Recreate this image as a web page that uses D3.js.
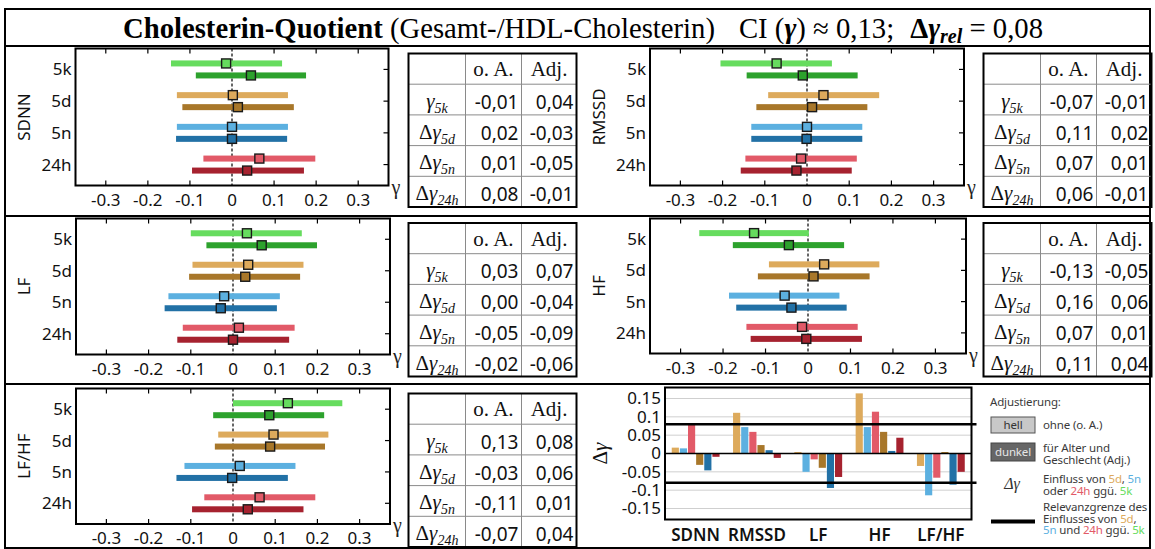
<!DOCTYPE html>
<html>
<head>
<meta charset="utf-8">
<script src="https://cdn.jsdelivr.net/npm/d3@7"></script>
<style>
  body { margin: 0; background: #fff; }
  svg { display: block; }
</style>
</head>
<body>
<svg id="chart" width="1155" height="549"></svg>
<script>
// ---------- data ----------
const categories = ["5k", "5d", "5n", "24h"];
const xTicks = [-0.3, -0.2, -0.1, 0, 0.1, 0.2, 0.3];
const measures = ["SDNN", "RMSSD", "LF", "HF", "LF/HF"];

// [lower CI, estimate, upper CI] per category (5k, 5d, 5n, 24h)
const sdnnLight  = [[-0.145, -0.014, 0.119], [-0.131, 0.002, 0.133], [-0.131, 0.000, 0.133], [-0.068, 0.065, 0.198]];
const sdnnDark   = [[-0.086, 0.045, 0.176], [-0.118, 0.014, 0.147], [-0.133, 0.000, 0.131], [-0.095, 0.036, 0.171]];
const rmssdLight = [[-0.205, -0.072, 0.059], [-0.092, 0.039, 0.171], [-0.132, 0.000, 0.131], [-0.146, -0.014, 0.118]];
const rmssdDark  = [[-0.143, -0.010, 0.120], [-0.120, 0.012, 0.143], [-0.132, -0.001, 0.131], [-0.157, -0.025, 0.106]];
const lfLight    = [[-0.100, 0.033, 0.163], [-0.096, 0.036, 0.167], [-0.153, -0.021, 0.111], [-0.119, 0.014, 0.146]];
const lfDark     = [[-0.063, 0.068, 0.199], [-0.104, 0.029, 0.159], [-0.162, -0.029, 0.104], [-0.132, 0.000, 0.133]];
const hfLight    = [[-0.256, -0.127, 0.002], [-0.092, 0.038, 0.168], [-0.186, -0.055, 0.074], [-0.145, -0.014, 0.117]];
const hfDark     = [[-0.177, -0.045, 0.085], [-0.118, 0.013, 0.145], [-0.169, -0.039, 0.091], [-0.135, -0.004, 0.127]];
const lfhfLight  = [[0.000, 0.130, 0.259], [-0.035, 0.096, 0.226], [-0.115, 0.016, 0.148], [-0.068, 0.063, 0.195]];
const lfhfDark   = [[-0.047, 0.086, 0.216], [-0.043, 0.088, 0.218], [-0.134, -0.002, 0.130], [-0.097, 0.035, 0.167]];

// table columns: gamma_5k, dgamma_5d, dgamma_5n, dgamma_24h
const tableRows = ["5k", "5d", "5n", "24h"];
const sdnnOA  = [-0.01, 0.02, 0.01, 0.08],   sdnnAdj  = [0.04, -0.03, -0.05, -0.01];
const rmssdOA = [-0.07, 0.11, 0.07, 0.06],   rmssdAdj = [-0.01, 0.02, 0.01, -0.01];
const lfOA    = [0.03, 0.00, -0.05, -0.02],  lfAdj    = [0.07, -0.04, -0.09, -0.06];
const hfOA    = [-0.13, 0.16, 0.07, 0.11],   hfAdj    = [-0.05, 0.06, 0.01, 0.04];
const lfhfOA  = [0.13, -0.03, -0.11, -0.07], lfhfAdj  = [0.08, 0.06, 0.01, 0.04];

// bar chart: change of gamma against 5k, per measure
const seriesKeys = ["light5d", "light5n", "light24h", "dark5d", "dark5n", "dark24h"];
const deltaLight5d  = [0.016, 0.111, 0.004, 0.164, -0.034];
const deltaLight5n  = [0.014, 0.072, -0.050, 0.072, -0.114];
const deltaLight24h = [0.079, 0.059, -0.016, 0.114, -0.066];
const deltaDark5d   = [-0.031, 0.023, -0.039, 0.059, 0.004];
const deltaDark5n   = [-0.046, 0.009, -0.094, 0.007, -0.085];
const deltaDark24h  = [-0.009, -0.012, -0.064, 0.043, -0.050];
const barTicks = [-0.15, -0.1, -0.05, 0, 0.05, 0.1, 0.15];
const relevanceLimit = 0.08;

// ---------- styles ----------
const lightColors = ["#66dc5e", "#ddaa5c", "#5cb0e0", "#e25a68"];
const darkColors  = ["#2da22d", "#a8772a", "#2271a6", "#a6222f"];
const seriesColors = [lightColors[1], lightColors[2], lightColors[3], darkColors[1], darkColors[2], darkColors[3]];
const SANS = "'Noto Sans', 'DejaVu Sans', sans-serif";
const SERIF = "'Liberation Serif', 'DejaVu Serif', serif";

const svg = d3.select("#chart");

// ---------- frame and title ----------
svg.append("rect").attr("x", 5).attr("y", 9).attr("width", 1145).attr("height", 539)
  .attr("fill", "none").attr("stroke", "#000").attr("stroke-width", 2);
[46, 216, 384].forEach(yy => {
  svg.append("line").attr("x1", 5).attr("x2", 1150).attr("y1", yy).attr("y2", yy)
    .attr("stroke", "#000").attr("stroke-width", 2);
});

const title = svg.append("text").attr("x", 583).attr("y", 38).attr("text-anchor", "middle")
  .style("font-family", SERIF).style("font-size", "28.7px").attr("fill", "#000");
title.append("tspan").attr("font-weight", "bold").text("Cholesterin-Quotient");
title.append("tspan").text(" (Gesamt-/HDL-Cholesterin)");
title.append("tspan").attr("dx", 24).text("CI (");
title.append("tspan").attr("font-weight", "bold").attr("font-style", "italic").text("γ");
title.append("tspan").text(") ≈ 0,13;");
title.append("tspan").attr("dx", 16).attr("font-weight", "bold").text("Δ");
title.append("tspan").attr("font-weight", "bold").attr("font-style", "italic").text("γ");
title.append("tspan").attr("font-weight", "bold").attr("font-style", "italic")
  .attr("font-size", "20px").attr("dy", 5).text("rel");
title.append("tspan").attr("dy", -5).text(" = 0,08");

// ---------- forest panels ----------
const forestData = {
  "SDNN": [sdnnLight, sdnnDark], "RMSSD": [rmssdLight, rmssdDark], "LF": [lfLight, lfDark],
  "HF": [hfLight, hfDark], "LF/HF": [lfhfLight, lfhfDark]
};
const tableData = {
  "SDNN": [sdnnOA, sdnnAdj], "RMSSD": [rmssdOA, rmssdAdj], "LF": [lfOA, lfAdj],
  "HF": [hfOA, hfAdj], "LF/HF": [lfhfOA, lfhfAdj]
};
const panelLayout = [
  { key: "SDNN",  x0: 75.5, x1: 388.5, y0: 48.5,  y1: 185.5, labelX: 24,  tableX: 408.5, tableY: 53.5 },
  { key: "RMSSD", x0: 650,  x1: 964,   y0: 48.5,  y1: 185.5, labelX: 599, tableX: 983.5, tableY: 53.5 },
  { key: "LF",    x0: 76,   x1: 390,   y0: 218.5, y1: 354.5, labelX: 24,  tableX: 408.5, tableY: 223 },
  { key: "HF",    x0: 650,  x1: 966,   y0: 218.5, y1: 353.5, labelX: 599, tableX: 983.5, tableY: 223 },
  { key: "LF/HF", x0: 76,   x1: 390,   y0: 388.5, y1: 524,   labelX: 24,  tableX: 408.5, tableY: 393.5 }
];

function drawForest(p) {
  const g = svg.append("g");
  const x = d3.scaleLinear().domain([-0.372, 0.372]).range([p.x0, p.x1]);
  const y = d3.scalePoint().domain(categories).range([p.y0, p.y1]).padding(0.66);

  // tick marks inside the frame
  xTicks.filter(t => t !== 0).forEach(t => {
    g.append("line").attr("x1", x(t)).attr("x2", x(t)).attr("y1", p.y0).attr("y2", p.y0 + 5)
      .attr("stroke", "#000").attr("stroke-width", 1.2);
    g.append("line").attr("x1", x(t)).attr("x2", x(t)).attr("y1", p.y1 - 5).attr("y2", p.y1)
      .attr("stroke", "#000").attr("stroke-width", 1.2);
  });
  categories.forEach(c => {
    g.append("line").attr("x1", p.x1 - 5).attr("x2", p.x1).attr("y1", y(c)).attr("y2", y(c))
      .attr("stroke", "#000").attr("stroke-width", 1.2);
  });

  // zero reference
  g.append("line").attr("x1", x(0)).attr("x2", x(0)).attr("y1", p.y0).attr("y2", p.y1)
    .attr("stroke", "#000").attr("stroke-width", 1.2).attr("stroke-dasharray", "3,2");

  const [light, dark] = forestData[p.key];
  const sets = [{ rows: light, colors: lightColors, off: -6 }, { rows: dark, colors: darkColors, off: 6 }];
  sets.forEach(s => {
    g.selectAll(null).data(s.rows).join("rect")
      .attr("x", d => x(d[0])).attr("width", d => x(d[2]) - x(d[0]))
      .attr("y", (d, i) => y(categories[i]) + s.off - 3).attr("height", 6)
      .attr("fill", (d, i) => s.colors[i]);
  });
  sets.forEach(s => {
    g.selectAll(null).data(s.rows).join("rect")
      .attr("x", d => x(d[1]) - 4.5).attr("width", 9)
      .attr("y", (d, i) => y(categories[i]) + s.off - 4.5).attr("height", 9)
      .attr("fill", (d, i) => s.colors[i]).attr("stroke", "#1a1a1a").attr("stroke-width", 1.4);
  });

  // frame
  g.append("rect").attr("x", p.x0).attr("y", p.y0).attr("width", p.x1 - p.x0).attr("height", p.y1 - p.y0)
    .attr("fill", "none").attr("stroke", "#000").attr("stroke-width", 2);

  // axis labels
  g.selectAll(null).data(xTicks).join("text")
    .attr("x", d => x(d)).attr("y", p.y1 + 20).attr("text-anchor", "middle")
    .style("font-family", SANS).style("font-size", "17px").attr("fill", "#111")
    .text(d => String(d));
  g.selectAll(null).data(categories).join("text")
    .attr("x", p.x0 - 4).attr("y", d => y(d)).attr("dy", "0.35em").attr("text-anchor", "end")
    .style("font-family", SANS).style("font-size", "17px").attr("fill", "#111")
    .text(d => d);
  g.append("text").attr("transform", `translate(${p.labelX},${(p.y0 + p.y1) / 2}) rotate(-90)`)
    .attr("text-anchor", "middle").attr("dy", "0.35em")
    .style("font-family", SANS).style("font-size", "17px").attr("fill", "#111").text(p.key);
  g.append("text").attr("x", p.x1 + 3).attr("y", p.y1 + 8)
    .style("font-family", SERIF).style("font-size", "20px").attr("fill", "#222").text("γ");
}

function drawTable(p) {
  const g = svg.append("g");
  const colW = [57, 56, 55];
  const rowH = 30.7;
  const colX = [p.tableX, p.tableX + colW[0], p.tableX + colW[0] + colW[1], p.tableX + colW[0] + colW[1] + colW[2]];
  const totalH = rowH * 5;
  for (let r = 1; r < 5; r++) {
    g.append("line").attr("x1", colX[0]).attr("x2", colX[3])
      .attr("y1", p.tableY + r * rowH).attr("y2", p.tableY + r * rowH)
      .attr("stroke", "#8a8a8a").attr("stroke-width", 1);
  }
  [1, 2].forEach(c => {
    g.append("line").attr("x1", colX[c]).attr("x2", colX[c])
      .attr("y1", p.tableY).attr("y2", p.tableY + totalH)
      .attr("stroke", "#8a8a8a").attr("stroke-width", 1);
  });
  g.append("rect").attr("x", colX[0]).attr("y", p.tableY).attr("width", colX[3] - colX[0]).attr("height", totalH)
    .attr("fill", "none").attr("stroke", "#000").attr("stroke-width", 2);

  ["o. A.", "Adj."].forEach((h, i) => {
    g.append("text").attr("x", (colX[i + 1] + colX[i + 2]) / 2).attr("y", p.tableY + rowH - 8)
      .attr("text-anchor", "middle").style("font-family", SERIF).style("font-size", "21px")
      .attr("fill", "#111").text(h);
  });

  const fmt = v => v.toFixed(2).replace(".", ",");
  const [oa, adj] = tableData[p.key];
  tableRows.forEach((r, i) => {
    const base = p.tableY + (i + 2) * rowH - 6;
    const lab = g.append("text").attr("x", (colX[0] + colX[1]) / 2).attr("y", base - 1)
      .attr("text-anchor", "middle").style("font-family", SERIF).style("font-size", "21px").attr("fill", "#111");
    if (i > 0) lab.append("tspan").text("Δ");
    lab.append("tspan").attr("font-style", "italic").text("γ");
    lab.append("tspan").attr("font-style", "italic").attr("font-size", "14px").attr("dy", 5).text(r);
    [oa[i], adj[i]].forEach((v, k) => {
      g.append("text").attr("x", colX[k + 2] - 3).attr("y", base)
        .attr("text-anchor", "end").style("font-family", SANS).style("font-size", "19px")
        .attr("fill", "#111").text(fmt(v));
    });
  });
}

panelLayout.forEach(p => { drawForest(p); drawTable(p); });

// ---------- bar chart of changes ----------
const bc = { x0: 665, x1: 971.5, y0: 387.5, y1: 519.5 };
const yBar = d3.scaleLinear().domain([-0.18, 0.18]).range([bc.y1, bc.y0]);
const xGroup = d3.scaleBand().domain(measures).range([bc.x0, bc.x1]).paddingInner(0.22).paddingOuter(0.11);
const xSeries = d3.scaleBand().domain(seriesKeys).range([0, xGroup.bandwidth()]).paddingInner(0.12);
const seriesValues = [deltaLight5d, deltaLight5n, deltaLight24h, deltaDark5d, deltaDark5n, deltaDark24h];

const bg = svg.append("g");
barTicks.filter(t => t !== 0).forEach(t => {
  bg.append("line").attr("x1", bc.x0).attr("x2", bc.x1).attr("y1", yBar(t)).attr("y2", yBar(t))
    .attr("stroke", "#cfcfcf").attr("stroke-width", 1);
});
seriesKeys.forEach((k, si) => {
  bg.selectAll(null).data(seriesValues[si]).join("rect")
    .attr("x", (d, i) => xGroup(measures[i]) + xSeries(k))
    .attr("width", xSeries.bandwidth())
    .attr("y", d => yBar(Math.max(0, d)))
    .attr("height", d => Math.abs(yBar(d) - yBar(0)))
    .attr("fill", seriesColors[si]);
});
bg.append("line").attr("x1", bc.x0).attr("x2", bc.x1).attr("y1", yBar(0)).attr("y2", yBar(0))
  .attr("stroke", "#000").attr("stroke-width", 1.3);
[relevanceLimit, -relevanceLimit].forEach(t => {
  bg.append("line").attr("x1", bc.x0).attr("x2", bc.x1 + 5).attr("y1", yBar(t)).attr("y2", yBar(t))
    .attr("stroke", "#000").attr("stroke-width", 2.5);
});
bg.append("rect").attr("x", bc.x0).attr("y", bc.y0).attr("width", bc.x1 - bc.x0).attr("height", bc.y1 - bc.y0)
  .attr("fill", "none").attr("stroke", "#000").attr("stroke-width", 2);
bg.selectAll(null).data(barTicks).join("text")
  .attr("x", bc.x0 - 4).attr("y", d => yBar(d)).attr("dy", "0.35em").attr("text-anchor", "end")
  .style("font-family", SANS).style("font-size", "17px").attr("fill", "#111").text(d => String(d));
bg.selectAll(null).data(measures).join("text")
  .attr("x", d => xGroup(d) + xGroup.bandwidth() / 2).attr("y", bc.y1 + 21).attr("text-anchor", "middle")
  .style("font-family", SANS).style("font-size", "17px").attr("font-weight", "600").attr("fill", "#111")
  .text(d => d);
const dLab = bg.append("text").attr("transform", `translate(600,${yBar(0)}) rotate(-90)`)
  .attr("text-anchor", "middle").attr("dy", "0.35em")
  .style("font-family", SERIF).style("font-size", "21px").attr("fill", "#111");
dLab.append("tspan").text("Δ");
dLab.append("tspan").attr("font-style", "italic").text("γ");

// ---------- legend ----------
const lg = svg.append("g").style("font-family", SANS).style("font-size", "11.5px")
  .style("letter-spacing", "-0.15px").attr("fill", "#3a3a3a");
lg.append("text").attr("x", 990).attr("y", 406).text("Adjustierung:");
lg.append("rect").attr("x", 991).attr("y", 417).attr("width", 44).attr("height", 16)
  .attr("fill", "#c8c8c8").attr("stroke", "#555").attr("stroke-width", 1);
lg.append("text").attr("x", 1013).attr("y", 425).attr("dy", "0.35em").attr("text-anchor", "middle")
  .attr("fill", "#333").text("hell");
lg.append("text").attr("x", 1043).attr("y", 429).text("ohne (o. A.)");
lg.append("rect").attr("x", 991).attr("y", 443).attr("width", 44).attr("height", 18)
  .attr("fill", "#666").attr("stroke", "#444").attr("stroke-width", 1);
lg.append("text").attr("x", 1013).attr("y", 452).attr("dy", "0.35em").attr("text-anchor", "middle")
  .attr("fill", "#e6e6e6").text("dunkel");
const dg = lg.append("text").attr("x", 1012).attr("y", 489).attr("text-anchor", "middle")
  .style("font-family", SERIF).style("font-size", "16px").attr("fill", "#333");
dg.append("tspan").attr("font-style", "italic").text("Δγ");

// multi-line legend entries: each entry is one text block, lines may hold coloured parts
function legendBlock(y0, lines) {
  const t = lg.append("text").attr("x", 1043).attr("y", y0);
  lines.forEach((parts, li) => {
    parts.forEach(([s, c], pi) => {
      const sp = t.append("tspan").attr("fill", c || "#3a3a3a").text(s);
      if (pi === 0 && li > 0) sp.attr("x", 1043).attr("dy", 11.6);
    });
  });
}
legendBlock(452, [[["für Alter und"]], [["Geschlecht (Adj.)"]]]);
legendBlock(483, [
  [["Einfluss von "], ["5d", lightColors[1]], [", "], ["5n", lightColors[2]]],
  [["oder "], ["24h", lightColors[3]], [" ggü. "], ["5k", lightColors[0]]]
]);
lg.append("line").attr("x1", 991).attr("x2", 1035).attr("y1", 521.5).attr("y2", 521.5)
  .attr("stroke", "#000").attr("stroke-width", 4);
legendBlock(511, [
  [["Relevanzgrenze des"]],
  [["Einflusses von "], ["5d", lightColors[1]], [","]],
  [["5n", lightColors[2]], [" und "], ["24h", lightColors[3]], [" ggü. "], ["5k", lightColors[0]]]
]);
</script>
</body>
</html>
